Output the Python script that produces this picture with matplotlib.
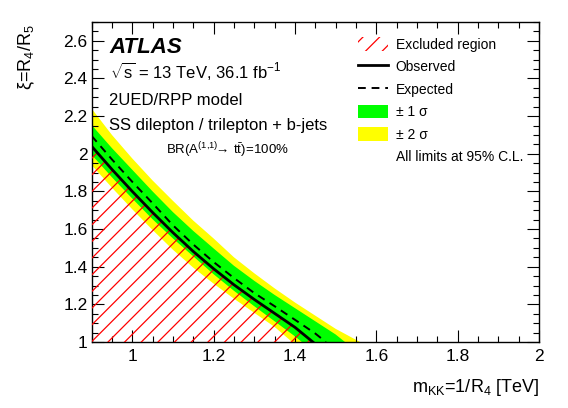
import numpy as np
import matplotlib
matplotlib.use("Agg")
import matplotlib.pyplot as plt
from matplotlib.patches import Patch
from matplotlib.lines import Line2D

plt.rcParams['font.family'] = ['Liberation Sans', 'DejaVu Sans']
plt.rcParams['mathtext.fontset'] = 'custom'
plt.rcParams['mathtext.rm'] = 'Liberation Sans'
plt.rcParams['mathtext.it'] = 'Liberation Sans:italic'
plt.rcParams['mathtext.bf'] = 'Liberation Sans:bold'
plt.rcParams['hatch.linewidth'] = 0.9

# ---- data ----
obs_x = [0.9, 0.95, 1.0, 1.05, 1.1, 1.15, 1.2, 1.25, 1.3, 1.35, 1.4, 1.444]
obs_y = [2.04, 1.917, 1.800, 1.688, 1.581, 1.481, 1.389, 1.304, 1.226, 1.152, 1.078, 1.0]

exp_x = [0.9, 0.95, 1.0, 1.05, 1.1, 1.15, 1.2, 1.25, 1.3, 1.35, 1.4, 1.45, 1.476]
exp_y = [2.095, 1.97, 1.851, 1.737, 1.62, 1.518, 1.425, 1.34, 1.26, 1.19, 1.118, 1.045, 1.0]

g_up_x = [0.9, 0.95, 1.0, 1.05, 1.1, 1.15, 1.2, 1.25, 1.3, 1.35, 1.4, 1.45, 1.5, 1.523]
g_up_y = [2.153, 2.03, 1.915, 1.8, 1.69, 1.59, 1.497, 1.405, 1.325, 1.25, 1.18, 1.11, 1.04, 1.0]
g_lo_x = [0.9, 0.95, 1.0, 1.05, 1.1, 1.15, 1.2, 1.25, 1.3, 1.35, 1.4, 1.417]
g_lo_y = [1.995, 1.875, 1.762, 1.652, 1.55, 1.455, 1.36, 1.272, 1.19, 1.11, 1.03, 1.0]

y_up_x = [0.9, 0.95, 1.0, 1.05, 1.1, 1.15, 1.2, 1.25, 1.3, 1.35, 1.4, 1.45, 1.5, 1.56]
y_up_y = [2.24, 2.1, 1.975, 1.858, 1.75, 1.645, 1.55, 1.45, 1.365, 1.285, 1.21, 1.14, 1.07, 1.0]
y_lo_x = [0.9, 0.95, 1.0, 1.05, 1.1, 1.15, 1.2, 1.25, 1.3, 1.35, 1.393]
y_lo_y = [1.94, 1.82, 1.705, 1.595, 1.49, 1.395, 1.31, 1.23, 1.155, 1.08, 1.0]

x_ticks = [1.0, 1.2, 1.4, 1.6, 1.8, 2.0]
x_ticklabels = ['1', '1.2', '1.4', '1.6', '1.8', '2']
y_ticks = [1.0, 1.2, 1.4, 1.6, 1.8, 2.0, 2.2, 2.4, 2.6]
y_ticklabels = ['1', '1.2', '1.4', '1.6', '1.8', '2', '2.2', '2.4', '2.6']

W, H = 568, 408
fig = plt.figure(figsize=(W / 100, H / 100), dpi=100)
ax = fig.add_axes([91.6 / W, 1 - 342 / H, (539 - 91.6) / W, (342 - 22) / H])
ax.set_xlim(0.9, 2.0)
ax.set_ylim(1.0, 2.7)

GREEN = '#00ff00'
YELLOW = '#ffff00'

ax.fill(np.concatenate([y_up_x, y_lo_x[::-1]]), np.concatenate([y_up_y, y_lo_y[::-1]]),
        color=YELLOW, lw=0, zorder=1)
ax.fill(np.concatenate([g_up_x, g_lo_x[::-1]]), np.concatenate([g_up_y, g_lo_y[::-1]]),
        color=GREEN, lw=0, zorder=2)
ax.fill(np.concatenate([obs_x, [obs_x[0]]]), np.concatenate([obs_y, [obs_y[-1]]]),
        facecolor='none', edgecolor='red', hatch='//', lw=0, zorder=3)
ax.plot(exp_x, exp_y, color='black', lw=1.4, ls=(0, (4, 3)), zorder=4)
ax.plot(obs_x, obs_y, color='black', lw=2.0, zorder=5)

ax.set_xticks(x_ticks)
ax.set_xticklabels(x_ticklabels)
ax.set_yticks(y_ticks)
ax.set_yticklabels(y_ticklabels)
ax.set_xticks(np.arange(0.9, 2.0001, 0.05), minor=True)
ax.set_yticks(np.arange(1.0, 2.7001, 0.05), minor=True)
ax.tick_params(which='both', direction='in', top=True, right=True, width=0.8, color='black')
ax.tick_params(which='major', length=8.6, labelsize=12.5)
ax.tick_params(which='minor', length=4.3)
ax.tick_params(axis='x', which='major', pad=5)
ax.tick_params(axis='y', which='major', pad=3)
for s in ax.spines.values():
    s.set_linewidth(1.0)

# axis titles
fig.text(27 / W, 1 - 24 / H, 'ξ=R$_4$/R$_5$', rotation=90, ha='center', va='top', fontsize=13)
fig.text(539 / W, 1 - 388 / H, 'm$_{\\mathrm{KK}}$=1/R$_4$ [TeV]', ha='right', va='center', fontsize=13)

# labels
fig.text(109 / W, 1 - 53 / H, 'ATLAS', fontsize=16, fontweight='bold', fontstyle='italic', va='baseline')
fig.text(110 / W, 1 - 78 / H, r'$\sqrt{\mathrm{s}}$ = 13 TeV, 36.1 fb$^{\mathrm{-1}}$', fontsize=12, va='baseline')
fig.text(109 / W, 1 - 105 / H, '2UED/RPP model', fontsize=12, va='baseline')
fig.text(109 / W, 1 - 130 / H, 'SS dilepton / trilepton + b-jets', fontsize=12, va='baseline')
fig.text(166 / W, 1 - 155 / H,
         r'$\mathrm{BR(A^{(1{,}1)}\!\!\rightarrow\, t\bar{t})\!=\!100\%}$',
         fontsize=9.5, va='baseline')

handles = [
    Patch(facecolor='none', edgecolor='red', hatch='//', lw=0),
    Line2D([], [], color='black', lw=2.0),
    Line2D([], [], color='black', lw=1.4, ls=(0, (4, 3))),
    Patch(facecolor=GREEN, lw=0),
    Patch(facecolor=YELLOW, lw=0),
    Line2D([], [], color='none'),
]
labels = ['Excluded region', 'Observed', 'Expected', '± 1 σ', '± 2 σ', 'All limits at 95% C.L.']
fig.legend(handles, labels, loc='upper left', bbox_to_anchor=(358 / W, 1 - 37 / H),
           frameon=False, fontsize=10, handlelength=2.16, handleheight=1.15,
           handletextpad=0.55, labelspacing=0.57, borderpad=0, borderaxespad=0)

fig.savefig('out.png', dpi=100)
